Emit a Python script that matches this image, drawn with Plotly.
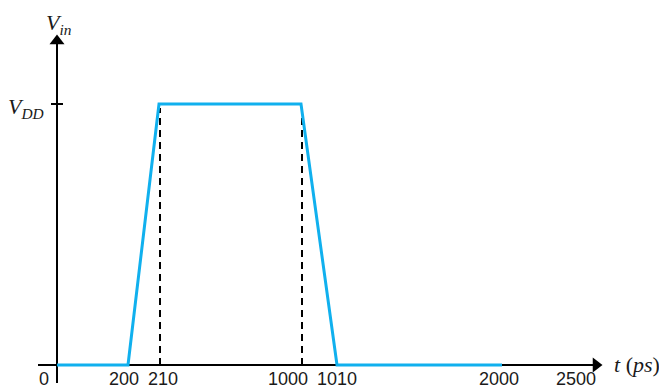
import plotly.graph_objects as go

# ---- data ----
time_ps = [0, 200, 210, 1000, 1010, 2000]      # waveform breakpoints (ps)
v_in = [0, 0, 1, 1, 0, 0]                       # input voltage in units of VDD
tick_labels = ["0", "200", "210", "1000", "1010", "2000", "2500"]
dashed_times = [210, 1000]

# ---- schematic (not to scale) placement of each time on the drawn axis ----
schematic_x = {0: 0, 200: 71, 210: 102, 1000: 244, 1010: 280, 2000: 445, 2500: 519}
label_x = {"0": -13, "200": 67, "210": 106, "1000": 231, "1010": 280, "2000": 442, "2500": 519}

# page body has an 8px margin, so the ranges are offset to compensate
X_MIN, X_MAX = -49, 618
Y_MIN, Y_MAX = -0.1264, 1.3678
X_TIP, Y_TIP = 545, 1.264

BLUE = "#10B0EE"
SERIF = "Liberation Serif"
SANS = "Liberation Sans"

fig = go.Figure()

# axes lines
fig.add_trace(go.Scatter(x=[-19, X_TIP - 8], y=[0, 0], mode="lines",
                         line=dict(color="black", width=2), hoverinfo="skip", showlegend=False))
fig.add_trace(go.Scatter(x=[0, 0], y=[-0.069, Y_TIP - 0.03], mode="lines",
                         line=dict(color="black", width=2), hoverinfo="skip", showlegend=False))
# arrow heads
fig.add_trace(go.Scatter(x=[X_TIP - 6], y=[0], mode="markers",
                         marker=dict(symbol="triangle-right", size=13, color="black"),
                         hoverinfo="skip", showlegend=False))
fig.add_trace(go.Scatter(x=[0], y=[Y_TIP - 6 / 261], mode="markers",
                         marker=dict(symbol="triangle-up", size=13, color="black"),
                         hoverinfo="skip", showlegend=False))
# VDD tick
fig.add_trace(go.Scatter(x=[-6, 6], y=[1, 1], mode="lines",
                         line=dict(color="black", width=2), hoverinfo="skip", showlegend=False))

# dashed guides
for t in dashed_times:
    fig.add_trace(go.Scatter(
        x=[schematic_x[t] + 1, schematic_x[t] + 1], y=[0, 0.985], mode="lines",
        line=dict(color="black", width=2, dash="7px,5px"), hoverinfo="skip", showlegend=False))

# waveform
fig.add_trace(go.Scatter(
    x=[schematic_x[t] for t in time_ps], y=v_in, mode="lines",
    line=dict(color=BLUE, width=3), hoverinfo="skip", showlegend=False))

annotations = []
# tick labels
for lab in tick_labels:
    annotations.append(dict(x=label_x[lab], y=-0.054, xref="x", yref="y", text=lab,
                            showarrow=False, xanchor="center", yanchor="middle",
                            font=dict(family=SANS, size=18, color="#1a1a1a")))

# axis titles
annotations.append(dict(x=555, y=0.003, xref="x", yref="y",
                        text="<i>t</i> (<i>ps</i>)", showarrow=False,
                        xanchor="left", yanchor="middle",
                        font=dict(family=SERIF, size=22, color="#1a1a1a")))
annotations.append(dict(x=-13, y=1.305, xref="x", yref="y",
                        text="<i>V</i><sub><i>in</i></sub>", showarrow=False,
                        xanchor="left", yanchor="middle",
                        font=dict(family=SERIF, size=22, color="#1a1a1a")))
annotations.append(dict(x=-11, y=0.985, xref="x", yref="y",
                        text="<i>V</i><sub><i>DD</i></sub>", showarrow=False,
                        xanchor="right", yanchor="middle",
                        font=dict(family=SERIF, size=22, color="#1a1a1a")))

fig.update_layout(
    width=667, height=390,
    margin=dict(l=0, r=0, t=0, b=0),
    paper_bgcolor="white", plot_bgcolor="white",
    xaxis=dict(range=[X_MIN, X_MAX], visible=False, fixedrange=True),
    yaxis=dict(range=[Y_MIN, Y_MAX], visible=False, fixedrange=True),
    annotations=annotations, showlegend=False,
)

fig.write_html("out.html")
